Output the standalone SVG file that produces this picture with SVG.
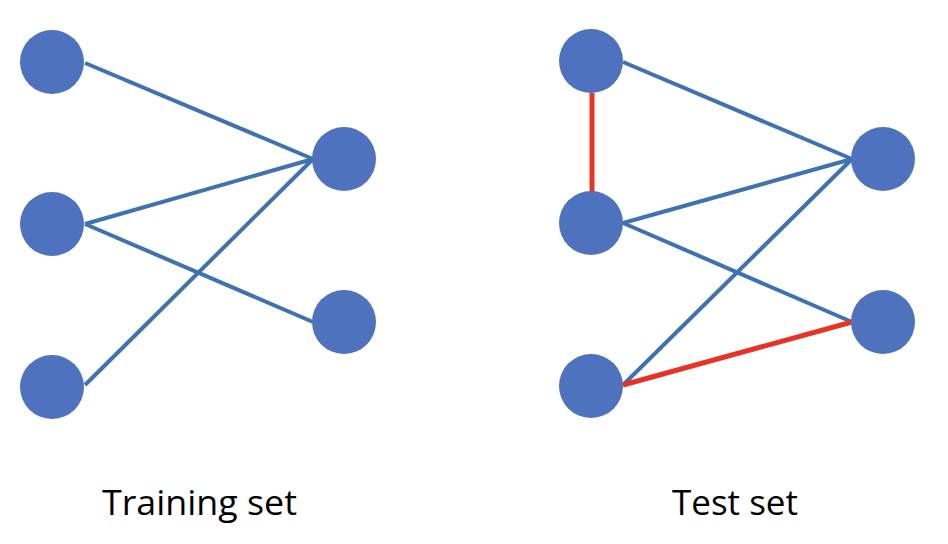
<svg xmlns="http://www.w3.org/2000/svg" width="948" height="544" viewBox="0 0 948 544">
<style>
.n{fill:#4E72BE}
.e{stroke:#3E72B1;stroke-width:4;fill:none}
.r{stroke:#EA3223;stroke-width:5;fill:none}
.t{font-family:"Open Sans","Liberation Sans",sans-serif;font-size:35px;fill:#000}
</style>
<rect width="948" height="544" fill="#fff"/>
<g id="connectors">
<line class="e" x1="85" y1="63" x2="313" y2="159"/>
<line class="e" x1="85" y1="224" x2="313" y2="159"/>
<line class="e" x1="85" y1="224" x2="313" y2="322"/>
<line class="e" x1="85" y1="385" x2="313" y2="159"/>
<line class="e" x1="623" y1="62" x2="852" y2="159"/>
<line class="e" x1="623" y1="223" x2="852" y2="159"/>
<line class="e" x1="623" y1="223" x2="852" y2="322"/>
<line class="e" x1="623" y1="385" x2="852" y2="159"/>
<line class="r" x1="592" y1="93" x2="592" y2="192"/>
<line class="r" x1="623" y1="385" x2="852" y2="322"/>
</g>
<g id="train-l1"><circle class="n" cx="52" cy="62" r="32"/></g>
<g id="train-l2"><circle class="n" cx="52" cy="224" r="32"/></g>
<g id="train-l3"><circle class="n" cx="52" cy="387" r="32"/></g>
<g id="train-r1"><circle class="n" cx="344" cy="159" r="32"/></g>
<g id="train-r2"><circle class="n" cx="344" cy="322" r="32"/></g>
<g id="test-l1"><circle class="n" cx="591" cy="61" r="32"/></g>
<g id="test-l2"><circle class="n" cx="591" cy="223" r="32"/></g>
<g id="test-l3"><circle class="n" cx="591" cy="386" r="32"/></g>
<g id="test-r1"><circle class="n" cx="883" cy="159" r="32"/></g>
<g id="test-r2"><circle class="n" cx="883" cy="322" r="32"/></g>
<text class="t" x="102" y="515" textLength="195" lengthAdjust="spacingAndGlyphs">Training set</text>
<text class="t" x="672" y="515" textLength="126" lengthAdjust="spacingAndGlyphs">Test set</text>
</svg>
